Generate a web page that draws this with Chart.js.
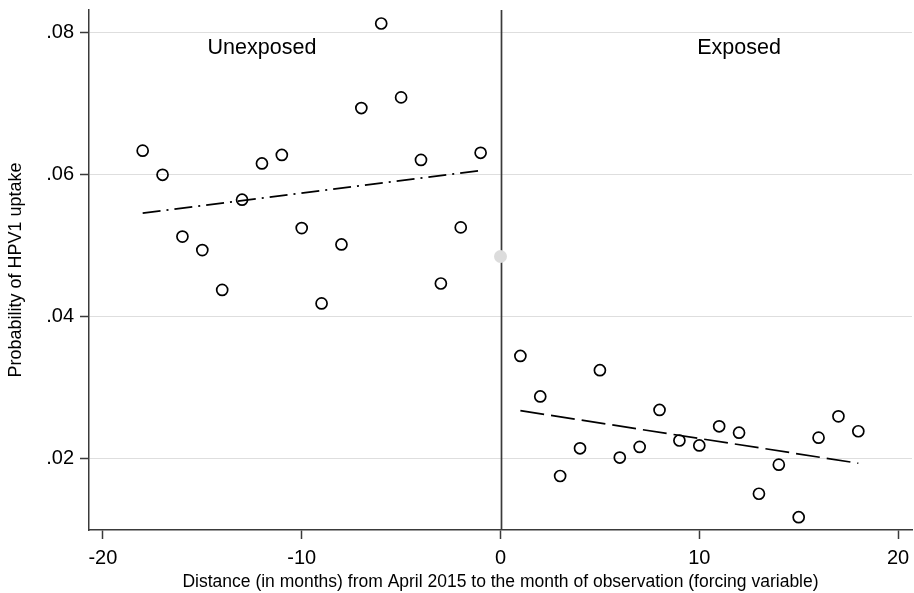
<!DOCTYPE html>
<html>
<head>
<meta charset="utf-8">
<script src="https://cdn.jsdelivr.net/npm/chart.js@4.4.1/dist/chart.umd.min.js"></script>
<style>
  html, body { margin: 0; padding: 0; background: #ffffff; }
  #wrap { width: 914px; height: 593px; position: relative; }
</style>
</head>
<body>
<div id="wrap"><canvas id="c" width="914" height="593"></canvas></div>
<script>
// ---- Data ----
const unexposedMonths = [-18, -17, -16, -15, -14, -13, -12, -11, -10, -9, -8, -7, -6, -5, -4, -3, -2, -1];
const unexposedProb = [0.0634, 0.0600, 0.0513, 0.0494, 0.0438, 0.0565, 0.0616, 0.0628, 0.0525, 0.0419, 0.0502, 0.0694, 0.0813, 0.0709, 0.0621, 0.0447, 0.0526, 0.0631];
const exposedMonths = [1, 2, 3, 4, 5, 6, 7, 8, 9, 10, 11, 12, 13, 14, 15, 16, 17, 18];
const exposedProb = [0.0345, 0.0288, 0.0176, 0.0215, 0.0325, 0.0202, 0.0217, 0.0269, 0.0226, 0.0219, 0.0246, 0.0237, 0.0151, 0.0192, 0.0118, 0.0230, 0.0260, 0.0239];
const cutoffMonth = [0];
const cutoffProb = [0.0485];
const unexposedFitX = [-18, -1];
const unexposedFitY = [0.0546, 0.0606];
const exposedFitX = [1, 18];
const exposedFitY = [0.0268, 0.0194];
const xTicks = [-20, -10, 0, 10, 20];
const yTicks = [0.02, 0.04, 0.06, 0.08];
const yTickLabels = [".02", ".04", ".06", ".08"];
const groupLabels = ["Unexposed", "Exposed"];
const groupLabelX = [-12, 12];
const groupLabelY = [0.0778, 0.0778];
const xTitle = "Distance (in months) from April 2015 to the month of observation (forcing variable)";
const yTitle = "Probability of HPV1 uptake";

const FONT = "'Liberation Sans', Arial, Helvetica, sans-serif";
const AXIS_COLOR = '#3a3a3a';
const GRID_COLOR = '#dedede';

const pts = (xs, ys) => xs.map((x, i) => ({ x: x, y: ys[i] }));

const noPad = (scale) => { scale.paddingTop = 0; scale.paddingBottom = 0; scale.paddingLeft = 0; scale.paddingRight = 0; };

const overlay = {
  id: 'overlay',
  beforeDatasetsDraw(chart) {
    const ctx = chart.ctx;
    const xs = chart.scales.x;
    const area = chart.chartArea;
    const x0 = Math.round(xs.getPixelForValue(cutoffMonth[0])) + 0.5;
    ctx.save();
    ctx.strokeStyle = AXIS_COLOR;
    ctx.lineWidth = 1.7;
    ctx.beginPath();
    ctx.moveTo(x0, area.top);
    ctx.lineTo(x0, area.bottom);
    ctx.stroke();
    ctx.restore();
  },
  afterDatasetsDraw(chart) {
    const ctx = chart.ctx;
    const xs = chart.scales.x, ys = chart.scales.y;
    ctx.save();
    ctx.fillStyle = '#000000';
    ctx.font = "21.5px " + FONT;
    ctx.textAlign = 'center';
    ctx.textBaseline = 'middle';
    groupLabels.forEach((t, i) => {
      ctx.fillText(t, xs.getPixelForValue(groupLabelX[i]), ys.getPixelForValue(groupLabelY[i]));
    });
    ctx.restore();
  }
};

new Chart(document.getElementById('c'), {
  type: 'scatter',
  data: {
    datasets: [
      {
        label: 'Unexposed',
        data: pts(unexposedMonths, unexposedProb),
        pointRadius: 5.5,
        pointBorderWidth: 1.7,
        pointBackgroundColor: 'rgba(255,255,255,0)',
        pointBorderColor: '#000000',
        order: 1
      },
      {
        label: 'Exposed',
        data: pts(exposedMonths, exposedProb),
        pointRadius: 5.5,
        pointBorderWidth: 1.7,
        pointBackgroundColor: 'rgba(255,255,255,0)',
        pointBorderColor: '#000000',
        order: 1
      },
      {
        label: 'Cutoff',
        data: pts(cutoffMonth, cutoffProb),
        pointRadius: 6.5,
        pointBorderWidth: 0,
        pointBackgroundColor: '#dcdcdc',
        pointBorderColor: '#dcdcdc',
        order: 0
      },
      {
        label: 'Fit unexposed',
        type: 'line',
        data: pts(unexposedFitX, unexposedFitY),
        borderColor: '#000000',
        borderWidth: 1.7,
        borderDash: [18, 6, 2, 6],
        pointRadius: 0,
        fill: false,
        order: 2
      },
      {
        label: 'Fit exposed',
        type: 'line',
        data: pts(exposedFitX, exposedFitY),
        borderColor: '#000000',
        borderWidth: 1.7,
        borderDash: [24, 7],
        pointRadius: 0,
        fill: false,
        order: 2
      }
    ]
  },
  options: {
    responsive: false,
    animation: false,
    devicePixelRatio: 1,
    layout: { autoPadding: false, padding: { top: 10, right: 2, left: 0, bottom: 0 } },
    plugins: {
      legend: { display: false },
      tooltip: { enabled: false }
    },
    scales: {
      x: {
        type: 'linear',
        min: -20.7,
        max: 20.7,
        afterBuildTicks(scale) { scale.ticks = xTicks.map(v => ({ value: v })); },
        afterFit(scale) { scale.height = 63; noPad(scale); },
        ticks: {
          color: '#000000',
          font: { family: FONT, size: 20 },
          padding: 7,
          maxRotation: 0,
          callback: (v) => String(v)
        },
        grid: {
          drawOnChartArea: false,
          drawTicks: true,
          tickLength: 9,
          tickColor: AXIS_COLOR,
          tickWidth: 1.5
        },
        border: { display: true, color: AXIS_COLOR, width: 1.5 },
        title: {
          display: true,
          text: xTitle,
          color: '#000000',
          font: { family: FONT, size: 17.5 },
          padding: { top: 0, bottom: 0 }
        }
      },
      y: {
        type: 'linear',
        min: 0.01,
        max: 0.0832,
        afterBuildTicks(scale) { scale.ticks = yTicks.map(v => ({ value: v })); },
        afterFit(scale) { scale.width = 89; noPad(scale); },
        ticks: {
          color: '#000000',
          font: { family: FONT, size: 20 },
          padding: 6,
          callback: (v) => { const i = yTicks.findIndex(t => Math.abs(t - v) < 1e-9); return i >= 0 ? yTickLabels[i] : ''; }
        },
        grid: {
          drawOnChartArea: true,
          color: GRID_COLOR,
          lineWidth: 1,
          drawTicks: true,
          tickLength: 9,
          tickColor: AXIS_COLOR,
          tickWidth: 1.5
        },
        border: { display: true, color: AXIS_COLOR, width: 1.5 },
        title: {
          display: true,
          text: yTitle,
          color: '#000000',
          font: { family: FONT, size: 18 },
          padding: { top: 5, bottom: 0 }
        }
      }
    }
  },
  plugins: [overlay]
});
</script>
</body>
</html>
